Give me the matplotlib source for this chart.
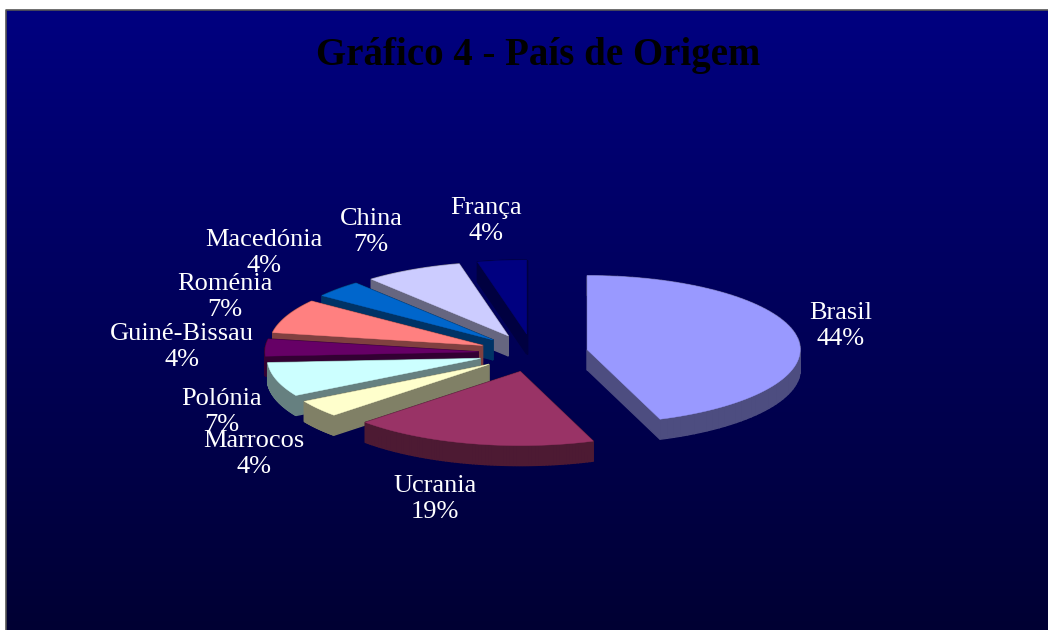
#pais de origem - exploded 3d pie
import numpy as np
import matplotlib.pyplot as plt
from matplotlib.colors import LinearSegmentedColormap, to_rgb
from matplotlib.patches import Polygon

titulo = 'Gráfico 4 - País de Origem'
paises = ['Brasil', 'Ucrania', 'Marrocos', 'Polónia', 'Guiné-Bissau', 'Roménia', 'Macedónia', 'China', 'França']
contagem = [12, 5, 1, 2, 1, 2, 1, 2, 1]
cores = ['#9999FF', '#993366', '#FFFFCC', '#CCFFFF', '#660066', '#FF8080', '#0066CC', '#CCCCFF', '#000080']
# label centres, pixels
lab_x = [841, 435, 254, 222, 182, 225, 264, 371, 486]
lab_y = [326, 499, 454, 412, 347, 297, 253, 232, 221]

cx, cy = 533, 353    # pie centre
rx, ry = 213, 74     # ellipse radii
explode = 55
depth = 20

fig = plt.figure(figsize=(10.48, 6.3), dpi=100, facecolor='white')
ax = fig.add_axes([0, 0, 1, 1])
ax.axis('off')

# background
fundo = LinearSegmentedColormap.from_list('fundo', ['#000080', '#000033'])
ax.imshow(np.linspace(0, 1, 256).reshape(-1, 1), extent=(6, 1048, 630, 10), cmap=fundo, aspect='auto', zorder=0)
ax.plot([6, 6, 1048], [630, 10, 10], color='#555555', lw=1.2, zorder=1)
ax.set_xlim(0, 1048)
ax.set_ylim(630, 0)

total = float(sum(contagem))
fim = np.cumsum(contagem) / total * 2 * np.pi
ini = np.concatenate([[0], fim[:-1]])
meio = (ini + fim) / 2

# back wedges first
z = 2
for i in np.argsort(-np.cos(meio)):
    x0 = cx + explode * np.sin(meio[i])
    y0 = cy - explode * (ry / rx) * np.cos(meio[i])
    t = np.linspace(ini[i], fim[i], 80)
    px = np.concatenate([[x0], x0 + rx * np.sin(t)])
    py = np.concatenate([[y0], y0 - ry * np.cos(t)])
    parede = tuple(0.5 * c for c in to_rgb(cores[i]))
    n = len(px)
    for j in range(n):
        k = (j + 1) % n
        ax.add_patch(Polygon([(px[j], py[j]), (px[k], py[k]), (px[k], py[k] + depth), (px[j], py[j] + depth)],
                             fc=parede, ec=parede, lw=1, zorder=z))
    ax.add_patch(Polygon(np.column_stack([px, py]), fc=cores[i], ec=cores[i], lw=0.3, zorder=z + 0.5))
    z += 1

for i in range(len(paises)):
    pct = round(contagem[i] / total * 100)
    ax.text(lab_x[i], lab_y[i], '%s\n%d%%' % (paises[i], pct), color='white', ha='center', va='center',
            family='Liberation Serif', fontsize=19, linespacing=1.2, zorder=20)

ax.text(538, 55, titulo, color='black', ha='center', va='center', family='Liberation Serif',
        fontweight='bold', fontsize=28, zorder=20)

fig.savefig('out.png', dpi=100)
